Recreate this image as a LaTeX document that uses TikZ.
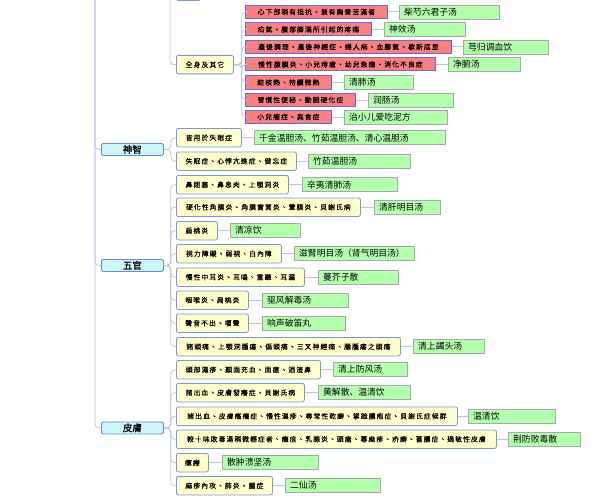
\documentclass[tikz,border=0pt]{standalone}
\usepackage{fontspec}
\newfontfamily\tcfont[LetterSpace=16, FakeBold=0.3]{Noto Sans CJK TC}
\newfontfamily\catfont[FakeBold=1]{Noto Sans CJK TC}
\newfontfamily\scfont{Noto Sans CJK SC}
\usetikzlibrary{positioning}

\definecolor{linkblue}{HTML}{B8C6E6}
\definecolor{symfill}{HTML}{FA8080}
\definecolor{symborder}{HTML}{6A6ACC}
\definecolor{partfill}{HTML}{FFFFCC}
\definecolor{partborder}{HTML}{7A96DC}
\definecolor{catfill}{HTML}{CCF6FF}
\definecolor{catborder}{HTML}{6A8BD0}
\definecolor{curefill}{HTML}{B4FFAE}
\definecolor{cureborder}{HTML}{A8A8A8}

\begin{document}
\begin{tikzpicture}[
    x=1pt, y=-1pt,
    base/.style={rectangle, inner sep=0pt, anchor=north west, line width=0.8pt},
    sym/.style={base, draw=symborder, fill=symfill, minimum height=13pt,
        font=\tcfont\fontsize{6.8}{8}\selectfont},
    part/.style={base, draw=partborder, fill=partfill, rounded corners=2pt,
        minimum height=18.5pt, font=\tcfont\fontsize{6.8}{8}\selectfont},
    cat/.style={base, draw=catborder, fill=catfill, rounded corners=1.5pt,
        minimum height=12pt, font=\catfont\fontsize{9.5}{11}\selectfont},
    cure/.style={rectangle, draw=cureborder, fill=curefill, minimum height=14pt,
        line width=0.7pt, inner xsep=5pt, inner ysep=1pt, align=left,
        font=\scfont\fontsize{8.8}{10}\selectfont},
    link/.style={draw=linkblue, line width=0.8pt, rounded corners=4pt}
]
\useasboundingbox (0,0) rectangle (597,503);
\clip (0,0) rectangle (597,503);

% branches coming from above the picture
\coordinate (root) at (95,-20);
\coordinate (bodyup) at (170,-20);
\node[part, minimum width=24pt, minimum height=18pt, anchor=south west] (prev) at (176,1) {};

% 全身及其它
\node[part, minimum width=57pt] (quanshen) at (176,55) {全身及其它};

\node[sym, minimum width=142pt] (p1) at (245,5) {心下部稍有抵抗、兼有胸脅苦滿者};
\node[sym, minimum width=126pt] (p2) at (245,22.5) {疝氣、腹部膨滿所引起的疼痛};
\node[sym, minimum width=206pt] (p3) at (245,40) {產後調理、產後神經症、婦人病、血腳氣、歇斯底里};
\node[sym, minimum width=190pt] (p4) at (245,57.5) {慢性腹膜炎、小兒痔瘡、幼兒急癇、消化不良症};
\node[sym, minimum width=86pt] (p5) at (245,75.5) {結核熱、持續微熱};
\node[sym, minimum width=110pt] (p6) at (245,93) {習慣性便秘、動脈硬化症};
\node[sym, minimum width=86pt] (p7) at (245,110) {小兒癇症、異食症};

\node[cure, text width=90pt, right=11pt of p1] (g1) {柴芍六君子汤};
\node[cure, text width=71pt, right=12pt of p2] (g2) {神效汤};
\node[cure, text width=75pt, right=11pt of p3] (g3) {芎归调血饮};
\node[cure, text width=62pt, right=12pt of p4] (g4) {净腑汤};
\node[cure, text width=59pt, right=12pt of p5] (g5) {清肺汤};
\node[cure, text width=75pt, right=12pt of p6] (g6) {润肠汤};
\node[cure, text width=93pt, right=12pt of p7] (g7) {治小儿爱吃泥方};

% 神智
\node[cat, minimum width=62pt] (shenzhi) at (101,143) {神智};

\node[part, minimum width=65pt] (y1) at (176,128) {皆用於失眠症};
\node[part, minimum width=120pt] (y2) at (176,151.5) {失眠症、心悸亢進症、健忘症};

\node[cure, text width=181pt, right=12pt of y1] (c1) {千金温胆汤、竹茹温胆汤、清心温胆汤};
\node[cure, text width=92pt, right=11pt of y2] (c2) {竹茹温胆汤};

% 五官
\node[cat, minimum width=62pt] (wuguan) at (101,259) {五官};

\node[part, minimum width=112pt] (y3) at (176,175) {鼻閉塞、鼻息肉、上顎洞炎};
\node[part, minimum width=184pt] (y4) at (176,197.5) {硬化性角膜炎、角膜實質炎、鞏膜炎、貝謝氏病};
\node[part, minimum width=41pt] (y5) at (176,221) {扁桃炎};
\node[part, minimum width=105pt] (y6) at (176,244) {視力障礙、弱視、白內障};
\node[part, minimum width=128pt] (y7) at (176,267.5) {慢性中耳炎、耳鳴、重聽、耳漏};
\node[part, minimum width=72pt] (y8) at (176,290.5) {咽喉炎、扁桃炎};
\node[part, minimum width=72pt] (y9) at (176,313.5) {聲音不出、嗄聲};
\node[part, minimum width=224pt] (y10) at (176,337) {諸頭痛、上顎洞腫瘍、偏頭痛、三叉神經痛、腦腫瘍之頭痛};

\node[cure, text width=85pt, right=13pt of y3] (c3) {辛夷清肺汤};
\node[cure, text width=56pt, right=13pt of y4] (c4) {清肝明目汤};
\node[cure, text width=60pt, right=12pt of y5] (c5) {清凉饮};
\node[cure, text width=110pt, right=12pt of y6] (c6) {滋腎明目汤（肾气明目汤）};
\node[cure, text width=70pt, right=13pt of y7] (c7) {蔓芥子散};
\node[cure, text width=76pt, right=13pt of y8] (c8) {驱风解毒汤};
\node[cure, text width=73pt, right=13pt of y9] (c9) {响声破笛丸};
\node[cure, text width=61pt, right=12pt of y10] (c10) {清上蠲头汤};

% 皮膚
\node[cat, minimum width=62pt] (pifu) at (101,421.5) {皮膚};

\node[part, minimum width=144pt] (y11) at (176,360) {頭部濕疹、顏面充血、面瘡、酒渣鼻};
\node[part, minimum width=128pt] (y12) at (176,383) {諸出血、皮膚發癢症、貝謝氏病};
\node[part, minimum width=281pt] (y13) at (176,406.5) {諸出血、皮膚瘙癢症、慢性濕疹、尋常性乾癬、掌蹠膿疱症、貝謝氏症候群};
\node[part, minimum width=320pt] (y14) at (176,429.5) {較十味敗毒湯稍微輕症者、癰疽、乳腺炎、頭瘡、蕁麻疹、疥癬、蓄膿症、過敏性皮膚};
\node[part, minimum width=32pt] (y15) at (176,453) {瘰癧};
\node[part, minimum width=96pt] (y16) at (176,476) {麻疹內攻、肺炎、腦症};

\node[cure, text width=64pt, right=12pt of y11] (c11) {清上防风汤};
\node[cure, text width=82pt, right=13pt of y12] (c12) {黄解散、温清饮};
\node[cure, text width=77pt, right=10pt of y13] (c13) {温清饮};
\node[cure, text width=62pt, right=11pt of y14] (c14) {荆防败毒散};
\node[cure, text width=86pt, right=13pt of y15] (c15) {散肿溃坚汤};
\node[cure, text width=85pt, right=12pt of y16] (c16) {二仙汤};

% connectors
\foreach \c in {shenzhi, wuguan, pifu}
    \path[link] (root) |- (\c.west);
\path[link] (bodyup) |- (quanshen.west);

\foreach \p in {p1, p2, p3, p4, p5, p6, p7}
    \path[link] (quanshen.east) -- ++(8,0) |- (\p.west);
\foreach \y in {y1, y2}
    \path[link] (shenzhi.east) -- ++(7,0) |- (\y.west);
\foreach \y in {y3, y4, y5, y6, y7, y8, y9, y10}
    \path[link] (wuguan.east) -- ++(7,0) |- (\y.west);
\foreach \y in {y11, y12, y13, y14, y15, y16}
    \path[link] (pifu.east) -- ++(7,0) |- (\y.west);

\foreach \i in {1,...,7}
    \path[link] (p\i.east) -- (p\i.east -| g\i.west);
\foreach \i in {1,...,16}
    \path[link] (y\i.east) -- (y\i.east -| c\i.west);

\end{tikzpicture}
\end{document}
